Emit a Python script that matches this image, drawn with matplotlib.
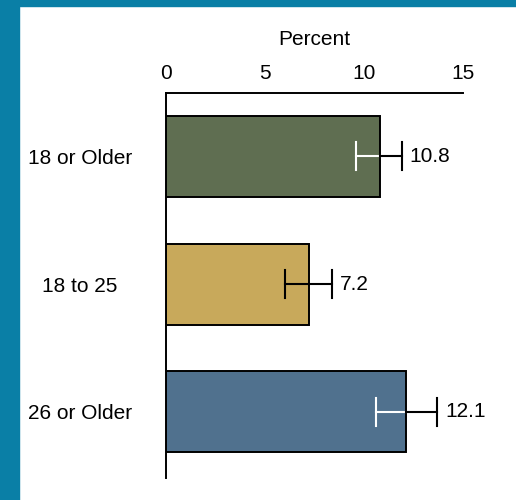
import matplotlib.pyplot as plt
from matplotlib.patches import Rectangle

# dados
categorias = ['18 or Older', '18 to 25', '26 or Older']
valores = [10.8, 7.2, 12.1]
limite_inf = [9.6, 6.0, 10.6]
limite_sup = [11.9, 8.4, 13.7]
cores = ['#5f6e51', '#c8a95b', '#50718e']
cor_erro_interno = ['white', 'black', 'white']
ticks_x = [0, 5, 10, 15]

plt.rcParams['font.family'] = ['Liberation Sans', 'DejaVu Sans']

fig = plt.figure(figsize=(5.16, 5.0), dpi=100)
ax = fig.add_axes([166 / 516, 1 - 478 / 500, (463 - 166) / 516, (478 - 93) / 500])

# moldura azul (topo e lado esquerdo)
fig.patches.append(Rectangle((0, 0), 19 / 516, 1, transform=fig.transFigure,
                             color='#0a7fa6', zorder=0))
fig.patches.append(Rectangle((0, 1 - 6 / 500), 1, 6 / 500, transform=fig.transFigure,
                             color='#0a7fa6', zorder=0))

pos = list(range(len(categorias)))
ax.barh(pos, valores, height=0.635, color=cores, edgecolor='black', linewidth=1.4, zorder=2)

cap = 0.11
for i, v in enumerate(valores):
    ci = cor_erro_interno[i]
    ax.plot([limite_inf[i], v], [i, i], color=ci, lw=1.5, zorder=3)
    ax.plot([v, limite_sup[i]], [i, i], color='black', lw=1.5, zorder=3)
    ax.plot([limite_inf[i]] * 2, [i - cap, i + cap], color=ci, lw=1.5, zorder=3)
    ax.plot([limite_sup[i]] * 2, [i - cap, i + cap], color='black', lw=1.5, zorder=3)
    ax.annotate(f'{v}', (limite_sup[i], i), xytext=(5.5, 0), textcoords='offset points',
                ha='left', va='center', fontsize=15)

ax.set_xlim(0, 15)
ax.set_ylim(2.52, -0.497)
ax.xaxis.tick_top()
ax.xaxis.set_label_position('top')
ax.set_xticks(ticks_x)
ax.set_xticklabels([str(t) for t in ticks_x], fontsize=15)
ax.set_xlabel('Percent', fontsize=15, labelpad=14)
ax.set_yticks(pos)
ax.set_yticklabels(categorias, fontsize=15, ha='center')
ax.tick_params(axis='both', length=0)
ax.tick_params(axis='x', pad=7)
ax.tick_params(axis='y', pad=62)

for s in ['right', 'bottom']:
    ax.spines[s].set_visible(False)
for s in ['top', 'left']:
    ax.spines[s].set_linewidth(1.4)

fig.savefig('out.png', dpi=100)
